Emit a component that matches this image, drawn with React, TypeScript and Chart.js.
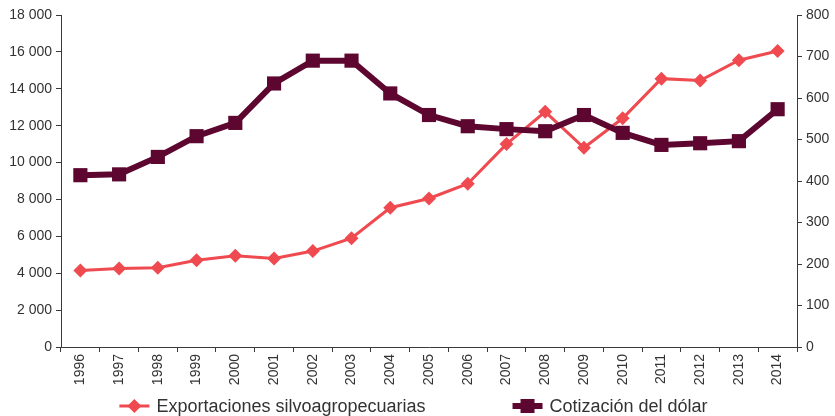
import React, { useEffect, useRef } from 'react';
import { Chart, registerables } from 'chart.js';

Chart.register(...registerables);

const years = ['1996', '1997', '1998', '1999', '2000', '2001', '2002', '2003', '2004', '2005', '2006', '2007', '2008', '2009', '2010', '2011', '2012', '2013', '2014'];
const exportaciones = [4150, 4250, 4300, 4700, 4950, 4800, 5200, 5900, 7550, 8050, 8850, 11000, 12750, 10800, 12400, 14550, 14450, 15550, 16050];
const dolar = [414, 416, 458, 508, 540, 635, 690, 690, 611, 559, 532, 525, 520, 559, 516, 487, 491, 496, 573];
const leftTicks = [0, 2000, 4000, 6000, 8000, 10000, 12000, 14000, 16000, 18000];
const rightTicks = [0, 100, 200, 300, 400, 500, 600, 700, 800];
const seriesNames = ['Exportaciones silvoagropecuarias', 'Cotización del dólar'];

const RED = '#EF4A50';
const MAROON = '#5C0630';
const AXIS = '#3a3a3a';
const TEXT = '#333333';
const FONT = '"Liberation Sans", Arial, Helvetica, sans-serif';

const fmt = (v: number) => String(v).replace(/\B(?=(\d{3})+(?!\d))/g, ' ');

const legendPlugin = {
  id: 'customLegend',
  afterDraw(chart: any) {
    const ctx = chart.ctx as CanvasRenderingContext2D;
    ctx.save();
    ctx.font = `18px ${FONT}`;
    ctx.textBaseline = 'middle';
    ctx.textAlign = 'left';
    const markerW = 30;
    const textGap = 7;
    const itemGap = 87;
    const widths = seriesNames.map((n) => ctx.measureText(n).width);
    const total = widths.reduce((a, w) => a + markerW + textGap + w, 0) + itemGap;
    let x = chart.width / 2 - 4 - total / 2;
    const y = 406;
    seriesNames.forEach((name, i) => {
      const color = i === 0 ? RED : MAROON;
      ctx.strokeStyle = color;
      ctx.fillStyle = color;
      ctx.lineWidth = i === 0 ? 3 : 6;
      ctx.beginPath();
      ctx.moveTo(x, y);
      ctx.lineTo(x + markerW, y);
      ctx.stroke();
      const cx = x + markerW / 2;
      ctx.beginPath();
      if (i === 0) {
        ctx.moveTo(cx - 7, y);
        ctx.lineTo(cx, y - 7);
        ctx.lineTo(cx + 7, y);
        ctx.lineTo(cx, y + 7);
        ctx.closePath();
      } else {
        ctx.rect(cx - 7, y - 7, 14, 14);
      }
      ctx.fill();
      ctx.fillStyle = TEXT;
      ctx.fillText(name, x + markerW + textGap, y + 1);
      x += markerW + textGap + widths[i] + itemGap;
    });
    ctx.restore();
  },
};

export default function App() {
  const ref = useRef<HTMLCanvasElement | null>(null);

  useEffect(() => {
    document.body.style.margin = '0';
    const canvas = ref.current;
    if (!canvas) return;
    const tickFont = { family: FONT, size: 14 };
    const chart = new Chart(canvas, {
      type: 'line',
      data: {
        labels: years,
        datasets: [
          {
            label: seriesNames[0],
            data: exportaciones,
            yAxisID: 'y',
            borderColor: RED,
            backgroundColor: RED,
            borderWidth: 3,
            pointStyle: 'rectRot',
            pointRadius: 7,
            pointBorderWidth: 0,
            tension: 0,
            order: 2,
          },
          {
            label: seriesNames[1],
            data: dolar,
            yAxisID: 'y1',
            borderColor: MAROON,
            backgroundColor: MAROON,
            borderWidth: 6,
            pointStyle: 'rect',
            pointRadius: 10,
            pointBorderWidth: 0,
            tension: 0,
            order: 1,
          },
        ],
      },
      options: {
        responsive: false,
        animation: false,
        devicePixelRatio: 1,
        layout: { padding: { top: 15, bottom: 24, left: 0, right: 0 } },
        plugins: {
          legend: { display: false },
          tooltip: { enabled: false },
        },
        scales: {
          x: {
            type: 'category',
            offset: true,
            grid: { display: true, drawOnChartArea: false, drawTicks: true, tickLength: 5, color: AXIS, offset: true },
            border: { display: true, color: AXIS, width: 1 },
            ticks: { minRotation: 90, maxRotation: 90, autoSkip: false, font: tickFont, color: TEXT, padding: 2 },
            afterFit: (s: any) => { s.height = 45; },
          },
          y: {
            position: 'left',
            min: 0,
            max: 18000,
            grid: { display: true, drawOnChartArea: false, drawTicks: true, tickLength: 5, color: AXIS },
            border: { display: true, color: AXIS, width: 1 },
            afterBuildTicks: (s: any) => { s.ticks = leftTicks.map((v) => ({ value: v })); },
            ticks: { font: tickFont, color: TEXT, padding: 4, callback: (v: any) => fmt(Number(v)) },
            afterFit: (s: any) => { s.width = 61; },
          },
          y1: {
            position: 'right',
            min: 0,
            max: 800,
            grid: { display: true, drawOnChartArea: false, drawTicks: true, tickLength: 5, color: AXIS },
            border: { display: true, color: AXIS, width: 1 },
            afterBuildTicks: (s: any) => { s.ticks = rightTicks.map((v) => ({ value: v })); },
            ticks: { font: tickFont, color: TEXT, padding: 4, callback: (v: any) => String(v) },
            afterFit: (s: any) => { s.width = 38; },
          },
        },
      },
      plugins: [legendPlugin],
    });
    return () => chart.destroy();
  }, []);

  return (
    <div style={{ position: 'fixed', left: 0, top: 0, width: 835, height: 416, background: '#fff' }}>
      <canvas ref={ref} width={835} height={416} />
    </div>
  );
}
